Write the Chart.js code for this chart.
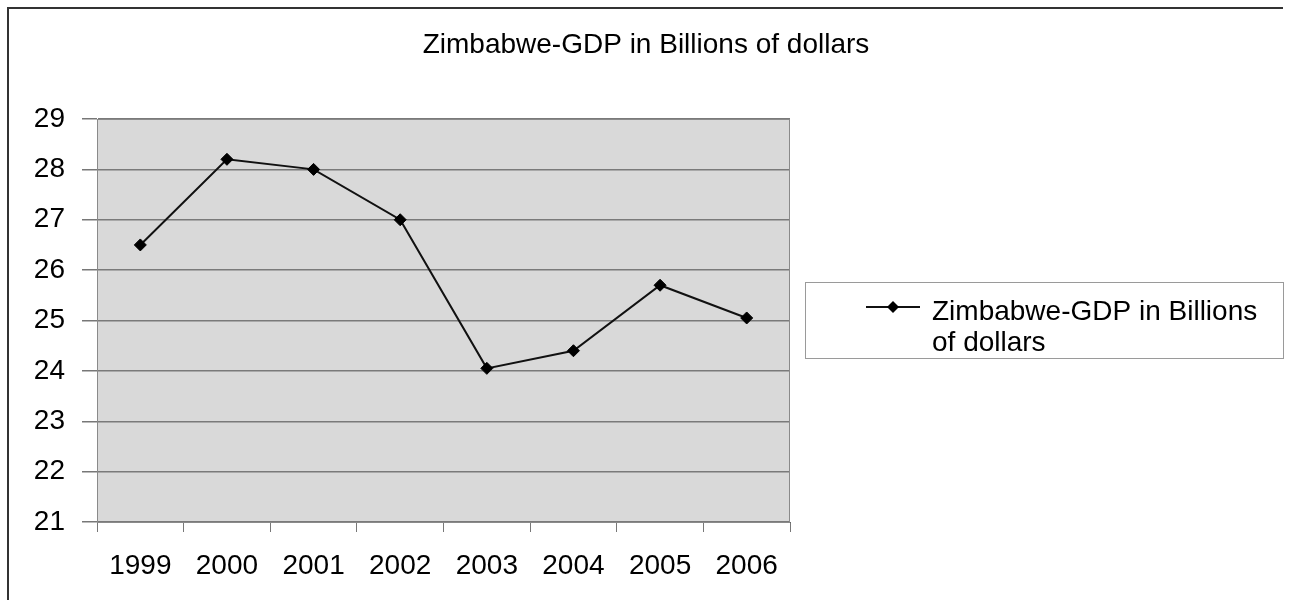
<!DOCTYPE html>
<html>
<head>
<meta charset="utf-8">
<title>Zimbabwe-GDP in Billions of dollars</title>
<script src="https://cdn.jsdelivr.net/npm/chart.js@4/dist/chart.umd.min.js"></script>
<style>
    html, body { margin: 0; padding: 0; background: #fff; }
    #wrap { width: 1289px; height: 600px; }
</style>
</head>
<body>
<div id="wrap"><canvas id="gdp-chart" width="1289" height="600"></canvas></div>
<script>
// Zimbabwe GDP line chart, drawn in the old spreadsheet style.

const years      = ['1999', '2000', '2001', '2002', '2003', '2004', '2005', '2006'];
const gdpValues  = [26.5, 28.2, 28.0, 27.0, 24.05, 24.4, 25.7, 25.05];
const yTicks     = [21, 22, 23, 24, 25, 26, 27, 28, 29];
const chartTitle = 'Zimbabwe-GDP in Billions of dollars';
const seriesName = 'Zimbabwe-GDP in Billions of dollars';

const FONT = '"Liberation Sans", Arial, sans-serif';

// white page, outer frame (top + left only), grey plot background
const framePlugin = {
    id: 'frame',
    beforeDraw(chart) {
        const { ctx, chartArea: a } = chart;
        ctx.save();
        ctx.fillStyle = '#fff';
        ctx.fillRect(0, 0, chart.width, chart.height);

        ctx.strokeStyle = '#333';
        ctx.lineWidth = 2;
        ctx.beginPath();
        ctx.moveTo(8, chart.height);
        ctx.lineTo(8, 8);
        ctx.lineTo(1283, 8);
        ctx.stroke();

        ctx.fillStyle = '#d9d9d9';
        ctx.fillRect(a.left, a.top, a.right - a.left, a.bottom - a.top);
        ctx.restore();
    },
    beforeDatasetsDraw(chart) {
        const { ctx, chartArea: a } = chart;
        ctx.save();
        ctx.strokeStyle = '#8a8a8a';
        ctx.lineWidth = 1;
        ctx.strokeRect(a.left + 0.5, a.top + 0.5, a.right - a.left - 1, a.bottom - a.top);
        ctx.restore();
    }
};

// title + boxed legend on the right
const decorPlugin = {
    id: 'decor',
    afterDraw(chart) {
        const { ctx } = chart;
        const ds = chart.data.datasets[0];
        ctx.save();

        ctx.font = `28px ${FONT}`;
        ctx.fillStyle = '#000';
        ctx.textAlign = 'center';
        ctx.textBaseline = 'middle';
        ctx.fillText(chartTitle, 646, 45);

        // legend box
        ctx.strokeStyle = '#9a9a9a';
        ctx.lineWidth = 1;
        ctx.strokeRect(805.5, 282.5, 478, 76);

        // symbol
        ctx.strokeStyle = '#111';
        ctx.lineWidth = 2;
        ctx.beginPath();
        ctx.moveTo(866, 307);
        ctx.lineTo(920, 307);
        ctx.stroke();
        ctx.fillStyle = '#000';
        ctx.beginPath();
        ctx.moveTo(893, 301);
        ctx.lineTo(899, 307);
        ctx.lineTo(893, 313);
        ctx.lineTo(887, 307);
        ctx.closePath();
        ctx.fill();

        // wrap label into the box
        ctx.textAlign = 'left';
        ctx.textBaseline = 'alphabetic';
        const words = ds.label.split(' ');
        const lines = [];
        let cur = '';
        words.forEach(w => {
            const test = cur ? cur + ' ' + w : w;
            if (ctx.measureText(test).width > 345 && cur) {
                lines.push(cur);
                cur = w;
            } else {
                cur = test;
            }
        });
        lines.push(cur);
        lines.forEach((ln, i) => ctx.fillText(ln, 932, 320 + i * 31));

        ctx.restore();
    }
};

new Chart(document.getElementById('gdp-chart'), {
    type: 'line',
    data: {
        labels: years,
        datasets: [{
            label: seriesName,
            data:  gdpValues,
            borderColor: '#111',
            borderWidth: 2,
            pointStyle: 'rectRot',
            pointRadius: 6,
            pointBackgroundColor: '#000',
            pointBorderColor: '#000',
            pointBorderWidth: 1,
            tension: 0,
            clip: false
        }]
    },
    options: {
        responsive: false,
        animation: false,
        events: [],
        layout: { padding: { left: 10, right: 499, top: 119, bottom: 0 } },
        plugins: {
            legend:  { display: false },
            title:   { display: false },
            tooltip: { enabled: false }
        },
        scales: {
            x: {
                offset: true,
                grid: {
                    offset: true,
                    drawOnChartArea: false,
                    drawTicks: true,
                    tickLength: 10,
                    tickColor: '#777'
                },
                border: { display: true, color: '#666', width: 1 },
                ticks: {
                    color: '#000',
                    padding: 17,
                    maxRotation: 0,
                    font: { family: FONT, size: 28 }
                },
                afterFit(scale) { scale.height = 78; }
            },
            y: {
                min: 21,
                max: 29,
                afterBuildTicks(scale) { scale.ticks = yTicks.map(v => ({ value: v })); },
                grid: {
                    color: '#7a7a7a',
                    lineWidth: 1.5,
                    drawTicks: true,
                    tickLength: 15,
                    tickColor: '#777'
                },
                border: { display: true, color: '#666', width: 1 },
                ticks: {
                    color: '#000',
                    padding: 17,
                    font: { family: FONT, size: 28 }
                },
                afterFit(scale) { scale.width = 87; }
            }
        }
    },
    plugins: [framePlugin, decorPlugin]
});
</script>
</body>
</html>
